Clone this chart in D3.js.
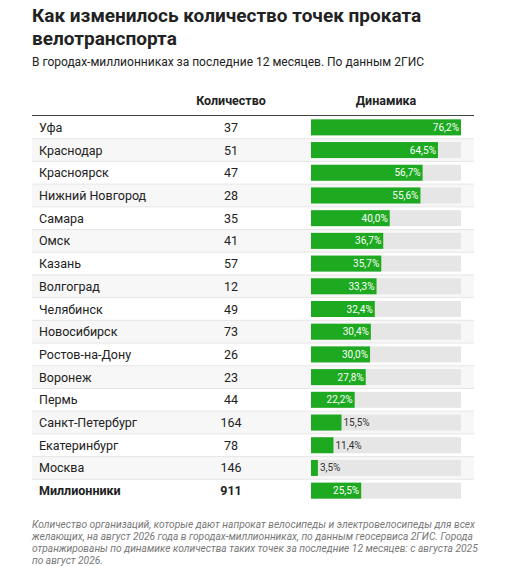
<!DOCTYPE html><html><head><meta charset="utf-8"><script src="https://cdn.jsdelivr.net/npm/d3@7"></script>
<style>body{margin:0;background:#fff;font-family:Roboto,sans-serif}</style></head><body><svg id="c" width="510" height="566"></svg>
<script>
const cities=["Уфа","Краснодар","Красноярск","Нижний Новгород","Самара","Омск","Казань","Волгоград","Челябинск","Новосибирск","Ростов-на-Дону","Воронеж","Пермь","Санкт-Петербург","Екатеринбург","Москва","Миллионники"];
const counts=[37,51,47,28,35,41,57,12,49,73,26,23,44,164,78,146,911];
const growth=[76.2,64.5,56.7,55.6,40.0,36.7,35.7,33.3,32.4,30.4,30.0,27.8,22.2,15.5,11.4,3.5,25.5];
const svg=d3.select("#c");
svg.append("text").attr("x",32).attr("y",22).attr("font-size",19).attr("font-weight",700).attr("fill","#222").text("Как изменилось количество точек проката");
svg.append("text").attr("x",32).attr("y",45).attr("font-size",19).attr("font-weight",700).attr("fill","#222").text("велотранспорта");
svg.append("text").attr("x",32).attr("y",66).attr("font-size",12).attr("fill","#222").text("В городах-миллионниках за последние 12 месяцев. По данным 2ГИС");
const L=32,R=474;
svg.append("text").attr("x",231).attr("y",105).attr("text-anchor","middle").attr("font-size",12.5).attr("font-weight",700).attr("fill","#222").text("Количество");
svg.append("text").attr("x",386).attr("y",105).attr("text-anchor","middle").attr("font-size",12.5).attr("font-weight",700).attr("fill","#222").text("Динамика");
const y=d3.scaleBand().domain(cities).range([116,502]);
const x=d3.scaleLinear().domain([0,d3.max(growth)]).range([311,461]);
const g=svg.selectAll("g.r").data(cities).join("g");
g.append("rect").attr("x",L).attr("width",R-L).attr("y",d=>y(d)).attr("height",y.bandwidth()).attr("fill",(d,i)=>i%2?"#f7f7f7":"#fff");
g.filter((d,i)=>i>0).append("line").attr("x1",L).attr("x2",R).attr("y1",d=>y(d)).attr("y2",d=>y(d)).attr("stroke","#e6e6e6");
const c=y.bandwidth()/2;
g.append("text").attr("x",39).attr("y",d=>y(d)+c+4.5).attr("font-size",12.5).attr("fill","#222").attr("font-weight",(d,i)=>i==16?700:400).text(d=>d);
g.append("text").attr("x",231).attr("y",d=>y(d)+c+4.5).attr("text-anchor","middle").attr("font-size",12.5).attr("fill","#222").attr("font-weight",(d,i)=>i==16?700:400).text((d,i)=>counts[i]);
g.append("rect").attr("x",x(0)).attr("width",x(d3.max(growth))-x(0)).attr("y",d=>y(d)+c-8).attr("height",16).attr("fill","#e6e6e6");
g.append("rect").attr("x",x(0)).attr("width",(d,i)=>x(growth[i])-x(0)).attr("y",d=>y(d)+c-8).attr("height",16).attr("fill","#1daa20");
const fmt=v=>v.toFixed(1).replace(".",",")+"%";
g.append("text").attr("y",d=>y(d)+c+3.5).attr("font-size",10).attr("x",(d,i)=>growth[i]>20?x(growth[i])-2:x(growth[i])+2).attr("text-anchor",(d,i)=>growth[i]>20?"end":"start").attr("fill",(d,i)=>growth[i]>20?"#fff":"#333").text((d,i)=>fmt(growth[i]));
svg.append("line").attr("x1",L).attr("x2",R).attr("y1",115.5).attr("y2",115.5).attr("stroke","#444").attr("stroke-width",1.2);
const notes=["Количество организаций, которые дают напрокат велосипеды и электровелосипеды для всех","желающих, на август 2026 года в городах-миллионниках, по данным геосервиса 2ГИС. Города","отранжированы по динамике количества таких точек за последние 12 месяцев: с августа 2025","по август 2026."];
svg.selectAll("text.n").data(notes).join("text").attr("x",32).attr("y",(d,i)=>528+i*12).attr("font-size",10.2).attr("font-style","italic").attr("fill","#777").text(d=>d);
</script></body></html>
